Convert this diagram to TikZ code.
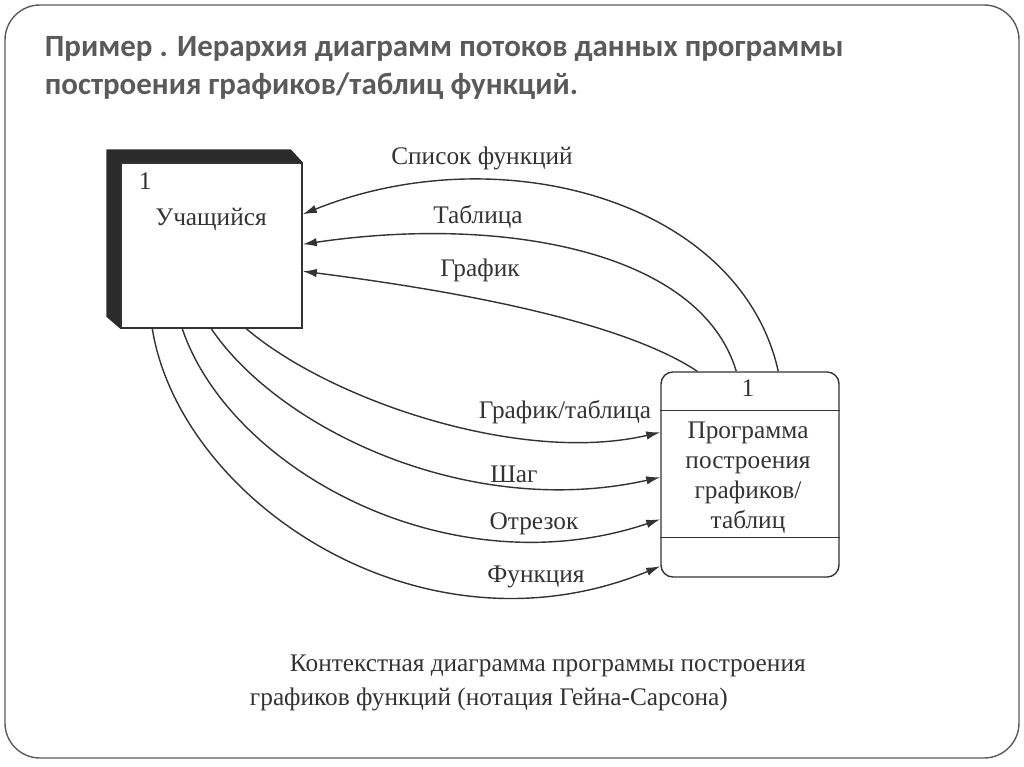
\documentclass[tikz,border=0pt]{standalone}
\usepackage{fontspec}
\setmainfont{Liberation Serif}
\newfontfamily\titlefont{Carlito}
\usetikzlibrary{arrows.meta,calc,positioning}
\definecolor{ink}{HTML}{333333}
\definecolor{titlegray}{HTML}{5A5A5A}
\definecolor{sidedark}{HTML}{2B2B2B}

\begin{document}
\begin{tikzpicture}[x=0.025cm,y=-0.025cm,
                    every node/.style={text=ink},
                    flow/.style={draw=ink,line width=1pt,-{Latex[length=10pt,width=6pt]}},
                    lbl/.style={font=\fontsize{18}{21}\selectfont},
                    entity/.style={draw=ink,fill=white,line width=1pt,inner sep=0pt,
                                   minimum width=4.525cm,minimum height=4.125cm},
                    process/.style={draw=ink,line width=1pt,rounded corners=0.3cm,inner sep=0pt,
                                    minimum width=4.45cm,minimum height=5.125cm}]

    \useasboundingbox (0,0) rectangle (1024,767);
    \draw[titlegray,line width=1pt,rounded corners=0.875cm] (5,5) rectangle (1019,758);

    \node (title1) [anchor=base west,text=titlegray,font=\titlefont\bfseries\fontsize{22}{27}\selectfont]
        at (40,57) {Пример . Иерархия диаграмм потоков данных программы};
    \node (title2) [anchor=base west,text=titlegray,font=\titlefont\bfseries\fontsize{22}{27}\selectfont]
        at (40,95) {построения графиков/таблиц функций.};

    \node (uch) [entity] at (211.5,245.5) {};
    \fill[sidedark] ($(uch.north west)+(-14,-13)$) -- ($(uch.north east)+(-12,-13)$) -- (uch.north east)
        -- (uch.north west) -- (uch.south west) -- ($(uch.south west)+(-14,-12)$) -- cycle;
    \node (uchnum) [lbl,anchor=base west] at (134,190) {1};
    \node (uchname) [lbl,anchor=base] at (211,226) {Учащийся};

    \node (prog) [process] at (750,474.5) {};
    \draw[ink,line width=1pt] ($(prog.north west)+(0,39)$) -- ($(prog.north east)+(0,39)$);
    \draw[ink,line width=1pt] ($(prog.north west)+(0,166)$) -- ($(prog.north east)+(0,166)$);
    \node (prognum) [lbl] at (748,388) {1};
    \node (progname) [lbl,align=center,font=\fontsize{18}{21.3}\selectfont] at (748,478)
        {Программа\\построения\\графиков/\\таблиц};

    \coordinate (pt1) at ($(prog.north west)+(118,0)$);
    \coordinate (pt2) at ($(prog.north west)+(76,0)$);
    \coordinate (pt3) at ($(prog.north west)+(37,0)$);
    \coordinate (ur1) at ($(uch.north east)+(0,52)$);
    \coordinate (ur2) at ($(uch.north east)+(0,82)$);
    \coordinate (ur3) at ($(uch.north east)+(0,109)$);

    \coordinate (ub1) at ($(uch.south west)+(126,0)$);
    \coordinate (ub2) at ($(uch.south west)+(91,0)$);
    \coordinate (ub3) at ($(uch.south west)+(62,0)$);
    \coordinate (ub4) at ($(uch.south west)+(32,0)$);
    \coordinate (pl1) at ($(prog.north west)+(0,61)$);
    \coordinate (pl2) at ($(prog.north west)+(0,106)$);
    \coordinate (pl3) at ($(prog.north west)+(0,148)$);
    \coordinate (pl4) at ($(prog.north west)+(0,195)$);

    \draw[flow] (pt1) .. controls (740,200) and (500,135) .. (ur1);
    \draw[flow] (pt2) .. controls (700,250) and (500,215) .. (ur2);
    \draw[flow] (pt3) .. controls (620,320) and (450,290) .. (ur3);

    \draw[flow] (ub1) .. controls (330,400) and (520,465) .. (pl1);
    \draw[flow] (ub2) .. controls (280,430) and (470,520) .. (pl2);
    \draw[flow] (ub3) .. controls (230,470) and (450,590) .. (pl3);
    \draw[flow] (ub4) .. controls (180,500) and (420,665) .. (pl4);

    \node (spisok) [lbl] at (482,158) {Список функций};
    \node (tabl) [lbl] at (478,217) {Таблица};
    \node (graf) [lbl] at (480,270) {График};
    \node (graftabl) [lbl] at (565,412) {График/таблица};
    \node (shag) [lbl] at (514,474) {Шаг};
    \node (otrez) [lbl] at (534,524) {Отрезок};
    \node (funk) [lbl] at (536,577) {Функция};

    \node (cap1) [lbl,anchor=base west] at (285,671) {Контекстная диаграмма программы построения};
    \node (cap2) [lbl,anchor=base west] at (245,705) {графиков функций (нотация Гейна-Сарсона)};
\end{tikzpicture}
\end{document}
